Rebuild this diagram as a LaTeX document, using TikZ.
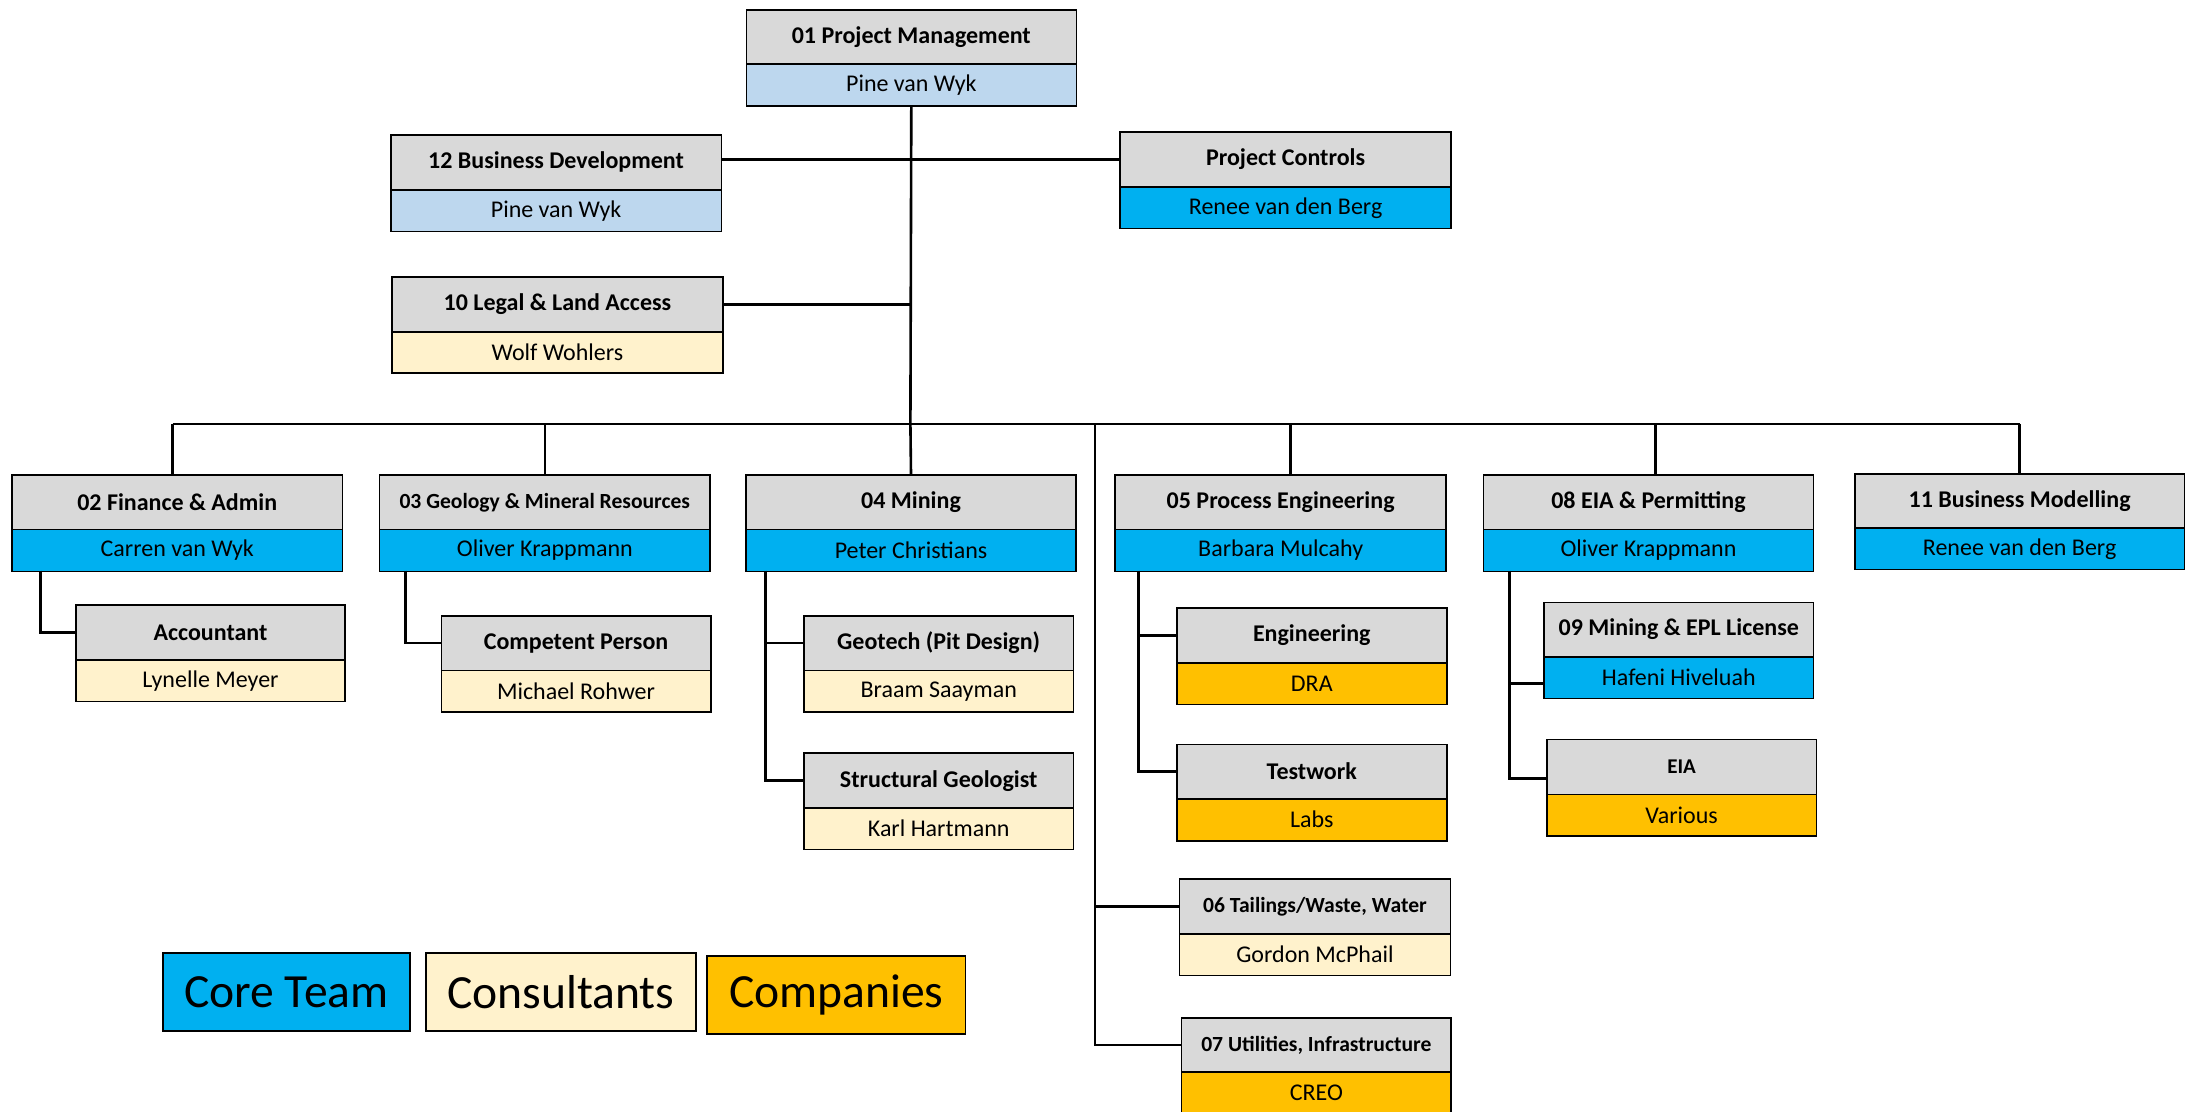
\documentclass[tikz,border=0pt]{standalone}
\usepackage{fontspec}
\setmainfont{Carlito}
\definecolor{hdrgray}{HTML}{D9D9D9}
\definecolor{ltblue}{HTML}{BDD7EE}
\definecolor{cyanb}{HTML}{00B0F0}
\definecolor{ltyel}{HTML}{FFF2CC}
\definecolor{orng}{HTML}{FFC000}
\tikzset{
  hdr/.style={draw=black, line width=0.8pt, fill=hdrgray, inner sep=0pt, anchor=north west, font=\bfseries\fontsize{12}{14}\selectfont, text=black},
  per/.style={draw=black, line width=0.8pt, inner sep=0pt, anchor=north west, font=\fontsize{12}{14}\selectfont, text=black},
  legend/.style={draw=black, line width=0.8pt, inner sep=0pt, anchor=north west, font=\fontsize{23.8}{28}\selectfont, text=black},
  conn/.style={line width=1.3pt, draw=black},
}
\newcommand\obox[9]{%
  \node[hdr, minimum width={(#4-#2)*0.5pt}, minimum height={(#5-#3)*0.5pt}] (#1) at (#2,#3) {#7};
  \node[per, fill=#9, minimum width={(#4-#2)*0.5pt}, minimum height={(#6-#5)*0.5pt}] (#1p) at (#2,#5) {#8};
}
\newcommand\lbox[7]{%
  \node[legend, fill=#6, minimum width={(#4-#2)*0.5pt}, minimum height={(#5-#3)*0.5pt}] (#1) at (#2,#3) {#7};
}
\newcommand\smallhdr{\fontsize{10.8}{13}\selectfont}
\begin{document}
\begin{tikzpicture}[x=0.5pt,y=-0.5pt]
\useasboundingbox (0,0) rectangle (2185,1112);
% boxes
\obox{pm}{745.5}{9.5}{1075.5}{63}{105}{01 Project Management}{Pine van Wyk}{ltblue}
\obox{bd}{390}{134}{720.5}{189.3}{230.7}{12 Business Development}{Pine van Wyk}{ltblue}
\obox{pc}{1119.3}{131.4}{1450.3}{186}{227.9}{Project Controls}{Renee van den Berg}{cyanb}
\obox{legal}{391.4}{276}{721.9}{331.4}{372.5}{10 Legal \& Land Access}{Wolf Wohlers}{ltyel}
\obox{fa}{11.2}{474.3}{341.6}{528.7}{570.7}{02 Finance \& Admin}{Carren van Wyk}{cyanb}
\obox{geo}{378.8}{474.3}{709.2}{528.7}{570.7}{{\smallhdr 03 Geology \& Mineral Resources}}{Oliver Krappmann}{cyanb}
\obox{min}{745}{474.3}{1075.4}{528.7}{570.7}{04 Mining}{Peter Christians}{cyanb}
\obox{proc}{1114.4}{474.3}{1445.4}{528.7}{570.7}{05 Process Engineering}{Barbara Mulcahy}{cyanb}
\obox{permit}{1482.5}{474.3}{1812.8}{528.7}{570.7}{08 EIA \& Permitting}{Oliver Krappmann}{cyanb}
\obox{bm}{1854}{473.2}{2183.6}{527.4}{568.6}{11 Business Modelling}{Renee van den Berg}{cyanb}
\obox{acc}{75}{604.2}{344.4}{659.4}{700.6}{Accountant}{Lynelle Meyer}{ltyel}
\obox{cp}{440.5}{614.9}{710}{669.7}{711.3}{Competent Person}{Michael Rohwer}{ltyel}
\obox{gt}{803.2}{614.9}{1072.6}{669.7}{711.3}{Geotech (Pit Design)}{Braam Saayman}{ltyel}
\obox{sg}{803.2}{752.4}{1072.6}{807.3}{848.5}{Structural Geologist}{Karl Hartmann}{ltyel}
\obox{eng}{1175.9}{607.2}{1446.1}{662}{703.6}{Engineering}{DRA}{orng}
\obox{tw}{1175.9}{743.5}{1446.1}{797.9}{839.9}{Testwork}{Labs}{orng}
\obox{tl}{1178.7}{878}{1449.6}{932.9}{974.5}{{\smallhdr 06 Tailings/Waste, Water}}{Gordon McPhail}{ltyel}
\obox{ut}{1180.8}{1016.9}{1450.3}{1071.4}{1113}{{\smallhdr 07 Utilities, Infrastructure}}{CREO}{orng}
\obox{mepl}{1543.2}{601.6}{1812.8}{656}{697.6}{09 Mining \& EPL License}{Hafeni Hiveluah}{cyanb}
\obox{eia}{1546}{738.8}{1815.6}{793.6}{835.2}{{\fontsize{10.5}{12}\selectfont EIA}}{Various}{orng}
% legend
\lbox{core}{162}{952.2}{409}{1030.2}{cyanb}{Core Team}
\lbox{cons}{425}{952.2}{695.2}{1030.2}{ltyel}{Consultants}
\lbox{comp}{706.4}{955.2}{964.6}{1033.2}{orng}{Companies}
% junction coordinates
\coordinate (busC) at (910.4,424);
\coordinate (busL) at (172.6,424);
\coordinate (busR) at (2019.5,424);
\coordinate (b5) at (1290.4,424);
\coordinate (b8) at (1655.6,424);
\coordinate (b6) at (1095,424);
\coordinate (fa1) at (40.7,570.7);
\coordinate (g1) at (405.5,570.7);
\coordinate (m1) at (765.4,570.7);
\coordinate (p1) at (1138.2,570.7);
\coordinate (e1) at (1509.7,570.7);
\coordinate (e2) at (1509.7,778.6);
\coordinate (e3) at (1509.7,683.5);
% connectors
\draw[conn] (pmp.south) -- (busC);
\draw[conn] (bd.east |- pc.west) -- (pc.west);
\draw[conn] (legal.east) -- (legal.east -| busC);
\draw[conn] (busL) -- (busR);
\draw[conn] (busL) -- (busL |- fa.north);
\draw[conn] (geo.north |- busL) -- (geo.north);
\draw[conn] (busC) -- (min.north);
\draw[conn] (b5) -- (b5 |- proc.north);
\draw[conn] (b8) -- (b8 |- permit.north);
\draw[conn] (busR) -- (busR |- bm.north);
\draw[conn] (b6) |- (ut.west);
\draw[conn] (b6 |- tl.west) -- (tl.west);
\draw[conn] (fa1) |- (acc.west);
\draw[conn] (g1) |- (cp.west);
\draw[conn] (m1) |- (sg.west);
\draw[conn] (m1 |- gt.west) -- (gt.west);
\draw[conn] (p1) |- (tw.west);
\draw[conn] (p1 |- eng.west) -- (eng.west);
\draw[conn] (e1) -- (e2) -- (e2 -| eia.west);
\draw[conn] (e3) -- (e3 -| mepl.west);
\end{tikzpicture}
\end{document}
